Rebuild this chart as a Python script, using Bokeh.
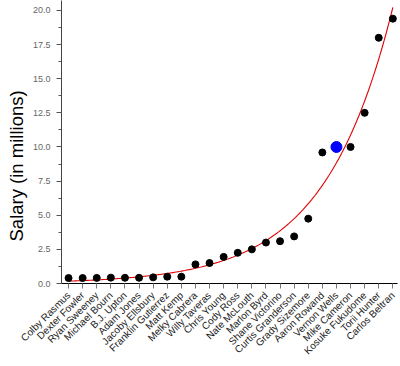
import numpy as np
from math import pi
from bokeh.plotting import figure
from bokeh.models import (FixedTicker, SingleIntervalTicker, Range1d, Title,
                          PrintfTickFormatter, ColumnDataSource)
from bokeh.embed import file_html
from bokeh.resources import INLINE

players = ["Colby Rasmus", "Dexter Fowler", "Ryan Sweeney", "Michael Bourn",
           "B.J. Upton", "Adam Jones", "Jacoby Ellsbury", "Franklin Gutierrez",
           "Matt Kemp", "Melky Cabrera", "Willy Taveras", "Chris Young",
           "Cody Ross", "Nate McLouth", "Marlon Byrd", "Shane Victorino",
           "Curtis Granderson", "Grady Sizemore", "Aaron Rowand", "Vernon Wells",
           "Mike Cameron", "Kosuke Fukudome", "Torii Hunter", "Carlos Beltran"]
salary = [0.40, 0.40, 0.41, 0.43, 0.42, 0.42, 0.45, 0.50, 0.50,
          1.40, 1.50, 1.95, 2.25, 2.50, 3.00, 3.10, 3.45, 4.75,
          9.60, 10.00, 10.00, 12.50, 18.00, 19.40]
highlight = "Vernon Wells"
y_ticks_interval = 2.5

xs = list(range(len(players)))
is_hi = [p == highlight for p in players]

# exponential least-squares fit y = a*exp(b*x) of the data
xa = np.array(xs, dtype=float)
ya = np.array(salary)
best = None
for b in np.linspace(0.05, 0.5, 4501):
    e = np.exp(b * xa)
    a = (ya * e).sum() / (e * e).sum()
    sse = ((ya - a * e) ** 2).sum()
    if best is None or sse < best[0]:
        best = (sse, a, b)
_, fa, fb = best
cx = np.linspace(0, len(players) - 1, 300)
cy = fa * np.exp(fb * cx)

p = figure(width=398, height=364, output_backend="svg", toolbar_location=None,
           x_range=Range1d(-0.5, 23.33), y_range=Range1d(0, 20.73),
           min_border_left=61, min_border_right=1, min_border_top=0,
           min_border_bottom=81)
p.outline_line_color = None
p.grid.visible = False
p.background_fill_color = "white"

p.line(cx, cy, line_color="#e00000", line_width=1.1)

src = ColumnDataSource(dict(x=[x for x, h in zip(xs, is_hi) if not h],
                            y=[y for y, h in zip(salary, is_hi) if not h]))
p.scatter("x", "y", source=src, size=7, fill_color="black", line_color="black")
src_h = ColumnDataSource(dict(x=[x for x, h in zip(xs, is_hi) if h],
                              y=[y for y, h in zip(salary, is_hi) if h]))
p.scatter("x", "y", source=src_h, size=11, fill_color="#0000ff", line_color="#0000ff")

xa_ = p.xaxis[0]
xa_.ticker = FixedTicker(ticks=xs)
xa_.major_label_overrides = {i: n for i, n in zip(xs, players)}
xa_.major_label_orientation = pi / 4
xa_.major_label_text_font = "Liberation Sans"
xa_.major_label_text_font_size = "10px"
xa_.major_label_text_color = "#222222"
xa_.major_tick_out = 5
xa_.major_tick_in = 0
xa_.minor_tick_out = 0
xa_.major_tick_line_color = "#777777"
xa_.axis_line_color = "black"
xa_.major_label_standoff = 5

ya_ = p.yaxis[0]
ya_.ticker = SingleIntervalTicker(interval=y_ticks_interval, num_minor_ticks=2)
ya_.formatter = PrintfTickFormatter(format="%.1f")
ya_.major_label_text_font = "Liberation Sans"
ya_.major_label_text_font_size = "9px"
ya_.major_label_text_color = "#666666"
ya_.major_tick_out = 5
ya_.major_tick_in = 0
ya_.minor_tick_out = 3
ya_.minor_tick_in = 0
ya_.major_tick_line_color = "#555555"
ya_.minor_tick_line_color = "#555555"
ya_.axis_line_color = "#444444"
ya_.major_label_standoff = 6

t = Title(text="Salary (in millions)", align="left", offset=42,
          text_font="Liberation Sans", text_font_size="18.5px",
          text_font_style="normal", text_color="black", standoff=6)
p.add_layout(t, "left")

open("out.html", "w").write(file_html(p, INLINE))
